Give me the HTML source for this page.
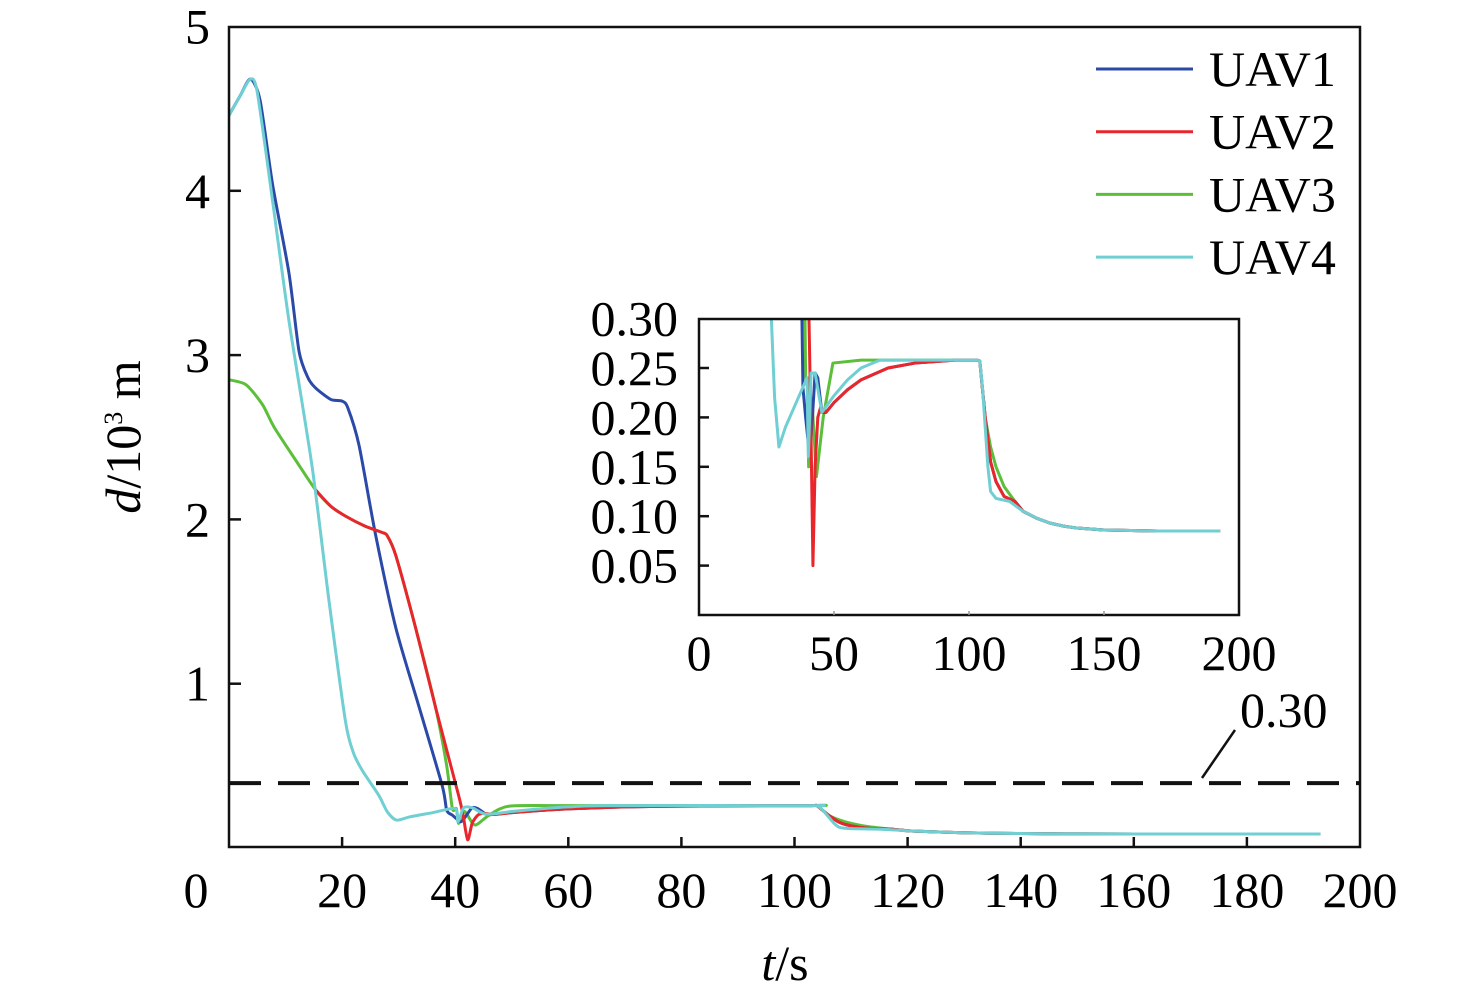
<!DOCTYPE html>
<html><head><meta charset="utf-8"><style>
body{margin:0;background:#fff}
svg{display:block;font-family:"Liberation Serif",serif}
</style></head><body>
<svg id="c" width="1476" height="997" viewBox="0 0 1476 997"></svg>
<script>
const tail=[[120,0.105],[125,0.098],[130,0.093],[135,0.09],[140,0.088],[150,0.086],[170,0.085],[193,0.085]];
const seriesNames=["UAV1","UAV2","UAV3","UAV4"];
const seriesColors=["#2b4aa8","#e8262b","#5cbf3a","#6fcfd2"];
const uav1=[[0,4.46],[2,4.58],[3.8,4.68],[5.5,4.55],[7.7,4.04],[10.6,3.5],[12.4,3.02],[14,2.86],[15.3,2.8],[18,2.73],[20,2.72],[21,2.68],[23,2.45],[25.9,1.91],[29.5,1.34],[33.6,0.86],[37.7,0.38],[38.5,0.23],[39.5,0.2],[41,0.16],[42,0.2],[43,0.245],[44,0.24],[45.5,0.205],[47,0.205],[50,0.215],[55,0.228],[60,0.238],[70,0.25],[80,0.255],[95,0.258],[103,0.258],[104,0.257],[106,0.2],[108,0.155],[110,0.135],[113,0.12],[117,0.115]].concat(tail);
const uav2=[[15.3,2.18],[18,2.08],[20.6,2.02],[24,1.96],[27.1,1.92],[28,1.9],[29.5,1.78],[33,1.34],[36.5,0.86],[40.6,0.32],[41.4,0.2],[42.2,0.05],[43,0.15],[44,0.2],[45,0.21],[47,0.205],[50,0.215],[55,0.228],[60,0.238],[70,0.25],[80,0.255],[95,0.258],[103,0.258],[104,0.257],[106,0.2],[108,0.155],[110,0.135],[113,0.12],[117,0.115]].concat(tail);
const uav3=[[0,2.85],[3,2.82],[5.9,2.7],[8,2.56],[11.8,2.36],[15.3,2.18],[18,2.08],[20.6,2.02],[24,1.96],[27.1,1.92],[28,1.9],[29.5,1.78],[33,1.34],[36.5,0.86],[38.5,0.5],[39.5,0.24],[40.2,0.24],[40.6,0.15],[41.5,0.22],[42,0.21],[43.5,0.14],[46,0.2],[49.6,0.255],[60,0.258],[103,0.258],[104,0.257],[106,0.2],[108,0.17],[110,0.15],[113,0.13],[117,0.115]].concat(tail);
const uav4=[[0,4.46],[2,4.58],[3.8,4.68],[5,4.6],[7.7,3.94],[10.6,3.21],[14.7,2.32],[17.7,1.5],[20.6,0.77],[22,0.58],[23.6,0.47],[26.5,0.32],[28,0.22],[29.6,0.17],[32,0.19],[36,0.215],[40,0.24],[40.5,0.16],[41.5,0.245],[43,0.245],[45.5,0.205],[50,0.222],[55,0.238],[60,0.25],[67,0.258],[103,0.258],[104,0.257],[105,0.23],[106,0.19],[107,0.15],[108,0.125],[110,0.118],[115,0.115]].concat(tail);
const allSeries=[uav1,uav2,uav3,uav4];
const drawOrder=[2,0,1,3];
const mainXTicks=[0,20,40,60,80,100,120,140,160,180,200];
const mainYTicks=[1,2,3,4,5];
const insetXTicks=[0,50,100,150,200];
const insetYTicks=["0.05","0.10","0.15","0.20","0.25","0.30"];
const thresholdValue=0.395;

const svg=document.getElementById('c');const NS="http://www.w3.org/2000/svg";
function mk(tag,at,parent){const e=document.createElementNS(NS,tag);for(const k in at)e.setAttribute(k,at[k]);(parent||svg).appendChild(e);return e;}
const mx=t=>229+t*(1360-229)/200, my=d=>848-d*164.3;
const ix=t=>699+t*2.7, iy=v=>615-v*988;
function smooth(pts){let d='M'+pts[0][0]+','+pts[0][1];
for(let i=0;i<pts.length-1;i++){const p0=pts[Math.max(0,i-1)],p1=pts[i],p2=pts[i+1],p3=pts[Math.min(pts.length-1,i+2)];
const k=1/8;const c1=[p1[0]+(p2[0]-p0[0])*k,p1[1]+(p2[1]-p0[1])*k],c2=[p2[0]-(p3[0]-p1[0])*k,p2[1]-(p3[1]-p1[1])*k];
d+=' C'+c1[0]+','+c1[1]+' '+c2[0]+','+c2[1]+' '+p2[0]+','+p2[1];}return d;}
function linear(pts){return 'M'+pts.map(p=>p[0]+','+p[1]).join(' L');}
let defs=mk('defs',{});
let cp=mk('clipPath',{id:'mc'},defs);mk('rect',{x:229,y:27,width:1131,height:820},cp);
let cp2=mk('clipPath',{id:'ic'},defs);mk('rect',{x:699,y:319,width:540,height:296},cp2);
const FS=50;
let gm=mk('g',{'clip-path':'url(#mc)'});

drawOrder.forEach(i=>{const s=allSeries[i];const p=mk('path',{d:smooth(s.map(q=>[mx(q[0]),my(q[1])])),fill:'none',stroke:seriesColors[i],'stroke-width':3,'stroke-linejoin':'round'},gm);

});
let th=mk('line',{x1:229,x2:1360,y1:my(thresholdValue),y2:my(thresholdValue),stroke:'#111','stroke-width':4,'stroke-dasharray':'32 17'});

let an=mk('line',{x1:1202,y1:778,x2:1235,y2:730,stroke:'#111','stroke-width':2.5});

let at=mk('text',{x:1240,y:727,'font-size':FS});at.textContent='0.30';

let fr=mk('rect',{x:229,y:27,width:1131,height:820,fill:'none',stroke:'#111','stroke-width':2.5});

mainXTicks.forEach(t=>{if(t>0&&t<200)mk('line',{x1:mx(t),x2:mx(t),y1:847,y2:837,stroke:'#111','stroke-width':2.5});
const tx=mk('text',{x:t===0?196:mx(t),y:907,'font-size':FS,'text-anchor':'middle'});tx.textContent=t;
});
mainYTicks.forEach(v=>{if(v<5)mk('line',{x1:229,x2:241,y1:my(v),y2:my(v),stroke:'#111','stroke-width':2.5});
const tx=mk('text',{x:210,y:my(v)+17,'font-size':FS,'text-anchor':'end'});tx.textContent=v;
});
let xt=mk('text',{x:785,y:980,'font-size':FS,'text-anchor':'middle'});xt.innerHTML='<tspan font-style="italic">t</tspan>/s';

let yt=mk('text',{x:0,y:0,'font-size':FS,'text-anchor':'middle',transform:'translate(140,437) rotate(-90)'});yt.innerHTML='<tspan font-style="italic">d</tspan>/10<tspan font-size="26" dy="-18">3</tspan><tspan dy="18"> m</tspan>';

let lg=mk('g',{});
seriesNames.forEach((n,i)=>{const y=69+i*62.7;
mk('line',{x1:1096,x2:1193,y1:y,y2:y,stroke:seriesColors[i],'stroke-width':3},lg);
const t=mk('text',{x:1209,y:y+17,'font-size':FS},lg);t.textContent=n;
});
let ib=mk('rect',{x:699,y:319,width:540,height:296,fill:'#fff'});

let gi=mk('g',{'clip-path':'url(#ic)'});

drawOrder.forEach(i=>{const s=allSeries[i];const p=mk('path',{d:linear(s.map(q=>[ix(q[0]),iy(q[1])])),fill:'none',stroke:seriesColors[i],'stroke-width':3,'stroke-linejoin':'round'},gi);

});
let ifr=mk('rect',{x:699,y:319,width:540,height:296,fill:'none',stroke:'#111','stroke-width':2.5});

insetXTicks.forEach(t=>{if(t>0&&t<200)mk('line',{x1:ix(t),x2:ix(t),y1:615,y2:611,stroke:'#999','stroke-width':1.5});
const tx=mk('text',{x:ix(t),y:670,'font-size':FS,'text-anchor':'middle'});tx.textContent=t;
});
insetYTicks.forEach(v=>{const y=iy(+v);if(+v<0.3)mk('line',{x1:699,x2:709,y1:y,y2:y,stroke:'#111','stroke-width':2.5});
const tx=mk('text',{x:678,y:y+17,'font-size':FS,'text-anchor':'end'});tx.textContent=v;
});
</script>
</body></html>
